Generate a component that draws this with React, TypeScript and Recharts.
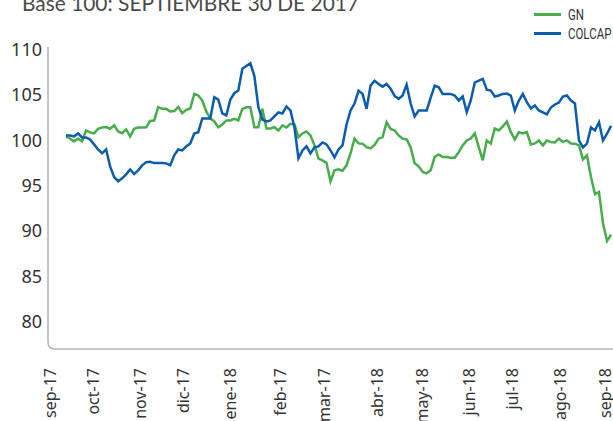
import React from "react";
import { LineChart, Line, XAxis, YAxis } from "recharts";

// trading-day samples, index 0 = 30 sep 2017
const gn = [
  100.44, 100.19, 99.89, 100.19, 99.89, 101.1, 100.88, 100.77, 101.29, 101.43,
  101.48, 101.29, 101.65, 100.99, 100.8, 101.21, 100.44, 101.29, 101.43, 101.43,
  101.46, 102.16, 102.2, 103.66, 103.48, 103.48, 103.19, 103.24, 103.68, 103.0,
  103.37, 103.52, 105.13, 104.95, 104.4, 103.19, 102.42, 102.09, 101.46, 101.76,
  102.2, 102.2, 102.38, 102.2, 103.48, 103.66, 103.66, 101.46, 101.46, 103.48,
  101.32, 101.32, 101.46, 101.1, 101.65, 101.43, 101.84, 101.76, 100.36, 100.77,
  100.99, 100.55, 99.45, 97.99, 97.8, 97.53, 95.49, 96.7, 96.81, 96.65,
  97.25, 98.57, 100.19, 99.67, 99.64, 99.26, 99.12, 99.5, 100.19, 100.36,
  102.01, 101.26, 101.1, 100.55, 100.19, 100.11, 99.23, 97.47, 97.14, 96.52,
  96.37, 96.7, 98.19, 98.46, 98.16, 98.16, 98.08, 98.08, 98.71, 99.45,
  100.0, 100.2, 100.77, 99.26, 97.8, 100.0, 99.64, 101.32, 101.1, 101.54,
  102.09, 100.91, 100.11, 100.91, 100.77, 100.91, 99.56, 99.67, 100.0, 99.45,
  100.0, 99.81, 99.78, 100.19, 99.84, 100.0, 99.67, 99.64, 99.45, 97.91,
  98.35, 95.97, 94.07, 94.32, 90.85, 88.9, 89.6,
];

const colcap = [
  100.55, 100.55, 100.44, 100.77, 100.33, 100.33, 100.1, 99.56, 99.0, 98.57,
  99.0, 97.14, 95.97, 95.5, 95.82, 96.26, 96.8, 96.3, 96.7, 97.25,
  97.6, 97.64, 97.5, 97.5, 97.5, 97.47, 97.25, 98.35, 99.0, 98.9,
  99.34, 99.67, 100.77, 100.9, 102.42, 102.42, 102.42, 104.76, 104.5, 102.97,
  102.75, 104.5, 105.2, 105.5, 107.9, 108.2, 108.5, 107.1, 103.66, 102.3,
  102.1, 102.2, 102.64, 103.1, 102.97, 103.74, 103.3, 101.46, 98.02, 98.9,
  99.34, 98.57, 99.23, 99.34, 99.78, 99.56, 98.9, 98.13, 99.0, 99.45,
  101.76, 103.3, 104.07, 105.49, 105.13, 103.48, 106.04, 106.59, 106.23, 105.93,
  106.23, 105.71, 104.9, 104.58, 104.95, 106.15, 104.07, 102.64, 103.3, 103.3,
  103.3, 104.73, 106.04, 105.86, 105.13, 105.13, 105.13, 104.95, 104.4, 104.84,
  103.11, 104.4, 106.37, 106.59, 106.78, 105.6, 105.49, 104.84, 104.95, 105.13,
  105.16, 104.95, 103.3, 104.4, 105.13, 104.21, 103.52, 103.85, 103.3, 103.08,
  102.86, 103.63, 103.96, 104.18, 104.84, 104.95, 104.4, 104.07, 100.0, 99.23,
  99.64, 101.43, 101.1, 102.01, 100.0, 100.74, 101.6,
];

const monthLabels = [
  "sep-17", "oct-17", "nov-17", "dic-17", "ene-18", "feb-17", "mar-17",
  "abr-18", "may-18", "jun-18", "jul-18", "ago-18", "sep-18",
];
// sample index where each month label sits
const monthTicks = [-4, 6.7, 18.5, 29.2, 40.9, 53.4, 64.4, 77.6, 88.8, 100.6, 111.3, 123.3, 134.5];

const yTicks = [80, 85, 90, 95, 100, 105, 110];

const GREEN = "#46ad4a";
const BLUE = "#0b5cad";
const AXIS = "#b3b3b3";
const TEXT = "#333";
const FONT = "'Noto Sans', 'Open Sans', sans-serif";

const data = gn.map((v, i) => ({ i, gn: v, colcap: colcap[i] }));

function MonthTick({ x, y, index }: any) {
  return (
    <g transform={`translate(${x},${y})`}>
      <text transform="rotate(-90)" textAnchor="end" dy="0.36em" fontSize={16} fill={TEXT} fontFamily={FONT}>
        {monthLabels[index]}
      </text>
    </g>
  );
}

export default function App() {
  return (
    <div style={{ position: "absolute", left: 0, top: 0, width: 613, height: 421, overflow: "hidden", background: "#fff" }}>
      <svg width={613} height={30} style={{ position: "absolute", left: 0, top: 0 }}>
        <text x={22} y={11} fontSize={21} fill="#4a4a4a" fontFamily="Lato, sans-serif" textLength={337} lengthAdjust="spacingAndGlyphs">
          Base 100: SEPTIEMBRE 30 DE 2017
        </text>
      </svg>

      <div style={{ position: "absolute", left: 534, top: 5, fontFamily: "Roboto, sans-serif", fontSize: 14, color: TEXT }}>
        {[
          ["GN", GREEN],
          ["COLCAP", BLUE],
        ].map(([name, c]) => (
          <div key={name} style={{ display: "flex", alignItems: "center", height: 19, whiteSpace: "nowrap" }}>
            <span style={{ display: "inline-block", width: 27, height: 3, background: c, marginRight: 7 }} />
            <span style={{ display: "inline-block", transform: "scaleX(0.82)", transformOrigin: "left center" }}>{name}</span>
          </div>
        ))}
      </div>

      {/* axis frame with the rounded lower-left corner */}
      <svg width={613} height={421} style={{ position: "absolute", left: 0, top: 0, pointerEvents: "none" }}>
        <path d="M48,47 V342 Q48,349 55,349 H613" fill="none" stroke={AXIS} strokeWidth={1.5} />
      </svg>

      <LineChart width={613} height={421} data={data} margin={{ top: 47, right: 0, bottom: 0, left: 0 }}>
        <XAxis
          dataKey="i"
          type="number"
          domain={[-4.5, 136.5]}
          ticks={monthTicks}
          interval={0}
          height={72}
          tickLine={false}
          tickSize={0}
          tickMargin={19}
          axisLine={false}
          tick={<MonthTick />}
          allowDataOverflow
        />
        <YAxis
          width={48}
          domain={[77, 110.3]}
          ticks={yTicks}
          interval={0}
          tickLine={false}
          tickSize={0}
          tickMargin={6}
          axisLine={false}
          tick={{ fontSize: 18, fill: TEXT, fontFamily: FONT }}
          allowDataOverflow
        />
        <Line type="linear" dataKey="gn" stroke={GREEN} strokeWidth={2.5} dot={false} isAnimationActive={false} />
        <Line type="linear" dataKey="colcap" stroke={BLUE} strokeWidth={2.5} dot={false} isAnimationActive={false} />
      </LineChart>
    </div>
  );
}
